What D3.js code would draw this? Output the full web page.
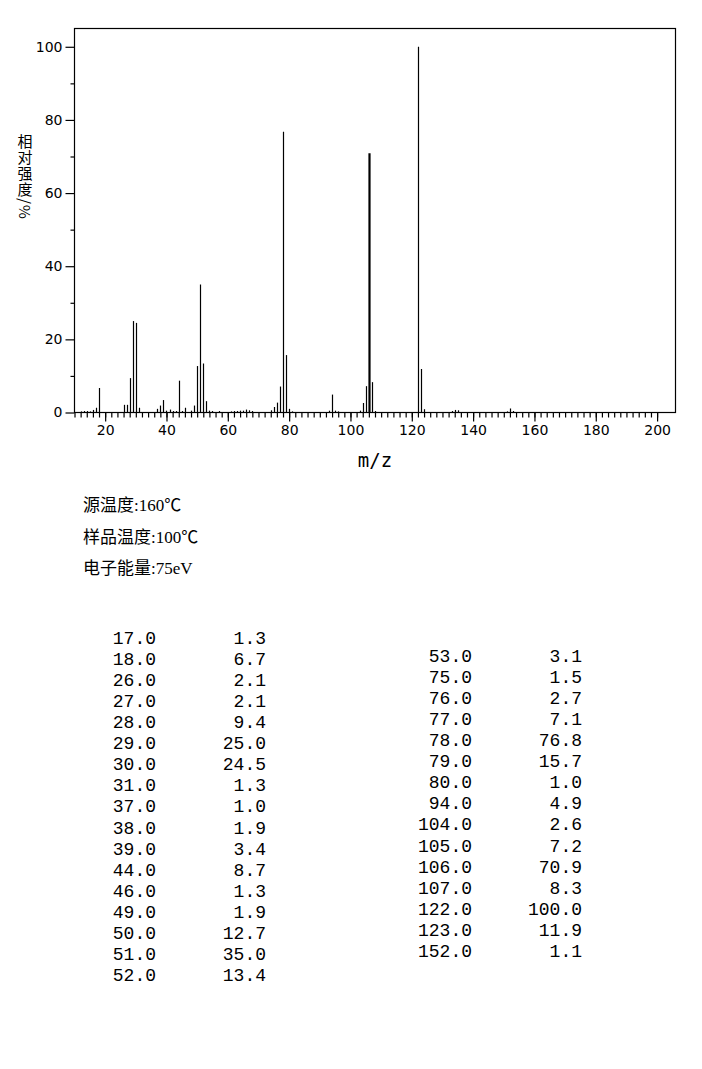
<!DOCTYPE html>
<html>
<head>
<meta charset="utf-8">
<script src="https://cdn.jsdelivr.net/npm/d3@7"></script>
<style>
  html, body { margin: 0; padding: 0; background: #fff; }
  svg { display: block; }
</style>
</head>
<body>
<svg id="spectrum" width="702" height="1069"></svg>
<script>
(() => {
    // listed peaks (m/z, relative intensity %)
    const peakMz = [17, 18, 26, 27, 28, 29, 30, 31, 37, 38, 39, 44, 46, 49, 50, 51, 52,
        53, 75, 76, 77, 78, 79, 80, 94, 104, 105, 106, 107, 122, 123, 152];
    const peakInt = [1.3, 6.7, 2.1, 2.1, 9.4, 25.0, 24.5, 1.3, 1.0, 1.9, 3.4, 8.7, 1.3, 1.9, 12.7, 35.0, 13.4,
        3.1, 1.5, 2.7, 7.1, 76.8, 15.7, 1.0, 4.9, 2.6, 7.2, 70.9, 8.3, 100.0, 11.9, 1.1];

    // small unlisted peaks, estimated from the plot
    const minorMz = [12, 13, 14, 15, 16, 40, 41, 42, 43, 45, 48, 54, 55, 57, 61, 62, 63, 64, 65, 66, 67, 68,
        74, 81, 93, 95, 96, 103, 108, 124, 133, 134, 135, 151, 153];
    const minorInt = [0.3, 0.4, 0.4, 0.3, 0.7, 0.5, 0.8, 0.4, 0.4, 0.4, 0.5, 0.5, 0.4, 0.4, 0.3, 0.4, 0.4, 0.5, 0.5, 0.8, 0.6, 0.4,
        0.6, 0.3, 0.5, 0.5, 0.3, 0.5, 0.4, 0.9, 0.4, 0.7, 0.6, 0.3, 0.4];

    const xMajorTicks = d3.range(20, 201, 20);
    const xMinorTicks = d3.range(10, 201, 2);
    const yMajorTicks = d3.range(0, 101, 20);
    const yMinorTicks = d3.range(10, 100, 20);

    const yTitle = "相对强度/%";
    const infoLines = ["源温度:160℃", "样品温度:100℃", "电子能量:75eV"];

    const svg = d3.select("#spectrum");
    const plot = { left: 74.5, right: 675.5, top: 28.5, bottom: 412.5 };

    const x = d3.scaleLinear().domain([10, 206]).range([plot.left, plot.right]);
    const y = d3.scaleLinear().domain([0, 105]).range([plot.bottom, plot.top]);

    // frame
    svg.append("rect")
        .attr("x", plot.left).attr("y", plot.top)
        .attr("width", plot.right - plot.left).attr("height", plot.bottom - plot.top)
        .attr("fill", "none").attr("stroke", "#000").attr("stroke-width", 1.2);

    // peaks
    const allPeaks = peakMz.map((m, i) => ({ mz: m, v: peakInt[i] }))
        .concat(minorMz.map((m, i) => ({ mz: m, v: minorInt[i] })));

    svg.append("g").selectAll("line")
        .data(allPeaks)
        .join("line")
        .attr("x1", d => Math.round(x(d.mz)) + 0.5).attr("x2", d => Math.round(x(d.mz)) + 0.5)
        .attr("y1", y(0)).attr("y2", d => y(d.v))
        .attr("stroke", "#000")
        .attr("stroke-width", d => d.mz === 106 ? 2.2 : 1.2);

    // x axis
    const tickFont = "DejaVu Sans, sans-serif";
    svg.append("g")
        .attr("transform", `translate(0,${plot.bottom})`)
        .call(d3.axisBottom(x).tickValues(xMinorTicks).tickSize(5).tickFormat(""))
        .call(g => g.select(".domain").remove());
    svg.append("g")
        .attr("transform", `translate(0,${plot.bottom})`)
        .call(d3.axisBottom(x).tickValues(xMajorTicks).tickSize(9).tickPadding(4).tickFormat(d3.format("d")))
        .call(g => g.select(".domain").remove())
        .call(g => g.selectAll("text").attr("font-family", tickFont).attr("font-size", 14).attr("fill", "#000"));

    // y axis
    svg.append("g")
        .attr("transform", `translate(${plot.left},0)`)
        .call(d3.axisLeft(y).tickValues(yMinorTicks).tickSize(4).tickFormat(""))
        .call(g => g.select(".domain").remove());
    svg.append("g")
        .attr("transform", `translate(${plot.left},0)`)
        .call(d3.axisLeft(y).tickValues(yMajorTicks).tickSize(9).tickPadding(3).tickFormat(d3.format("d")))
        .call(g => g.select(".domain").remove())
        .call(g => g.selectAll("text").attr("font-family", tickFont).attr("font-size", 14).attr("fill", "#000"));

    svg.selectAll(".tick line").attr("stroke", "#000").attr("stroke-width", 1.2);

    // axis titles
    svg.append("text")
        .attr("x", (plot.left + plot.right) / 2).attr("y", 467)
        .attr("text-anchor", "middle")
        .attr("font-family", "DejaVu Sans Mono, monospace").attr("font-size", 19)
        .text("m/z");

    // vertical title: CJK upright, "/%" turned sideways
    svg.append("text")
        .attr("x", 25).attr("y", 134)
        .attr("font-family", "Noto Sans CJK SC, sans-serif").attr("font-size", 15)
        .attr("letter-spacing", 1)
        .style("writing-mode", "vertical-rl")
        .text(yTitle);

    // acquisition info
    svg.append("g").selectAll("text")
        .data(infoLines)
        .join("text")
        .attr("x", 83).attr("y", (d, i) => 511 + i * 31.5)
        .attr("font-family", "Liberation Serif, Noto Sans CJK SC, serif").attr("font-size", 17)
        .text(d => d);

    // peak table
    const fmt = d3.format(".1f");
    const tableFont = "Liberation Mono, monospace";
    const leftRows = peakMz.slice(0, 17).map((m, i) => ({ m, v: peakInt[i] }));
    const rightRows = peakMz.slice(17).map((m, i) => ({ m, v: peakInt[i + 17] }));

    function drawColumn(rows, top, mzRight, intRight) {
        const g = svg.append("g")
            .attr("font-family", tableFont).attr("font-size", 18).attr("text-anchor", "end");
        g.selectAll(".mz").data(rows).join("text")
            .attr("class", "mz")
            .attr("x", mzRight).attr("y", (d, i) => top + i * 21.06)
            .text(d => fmt(d.m));
        g.selectAll(".iv").data(rows).join("text")
            .attr("class", "iv")
            .attr("x", intRight).attr("y", (d, i) => top + i * 21.06)
            .text(d => fmt(d.v));
    }

    drawColumn(leftRows, 644, 156, 266);
    drawColumn(rightRows, 662, 472, 582);
})();
</script>
</body>
</html>
